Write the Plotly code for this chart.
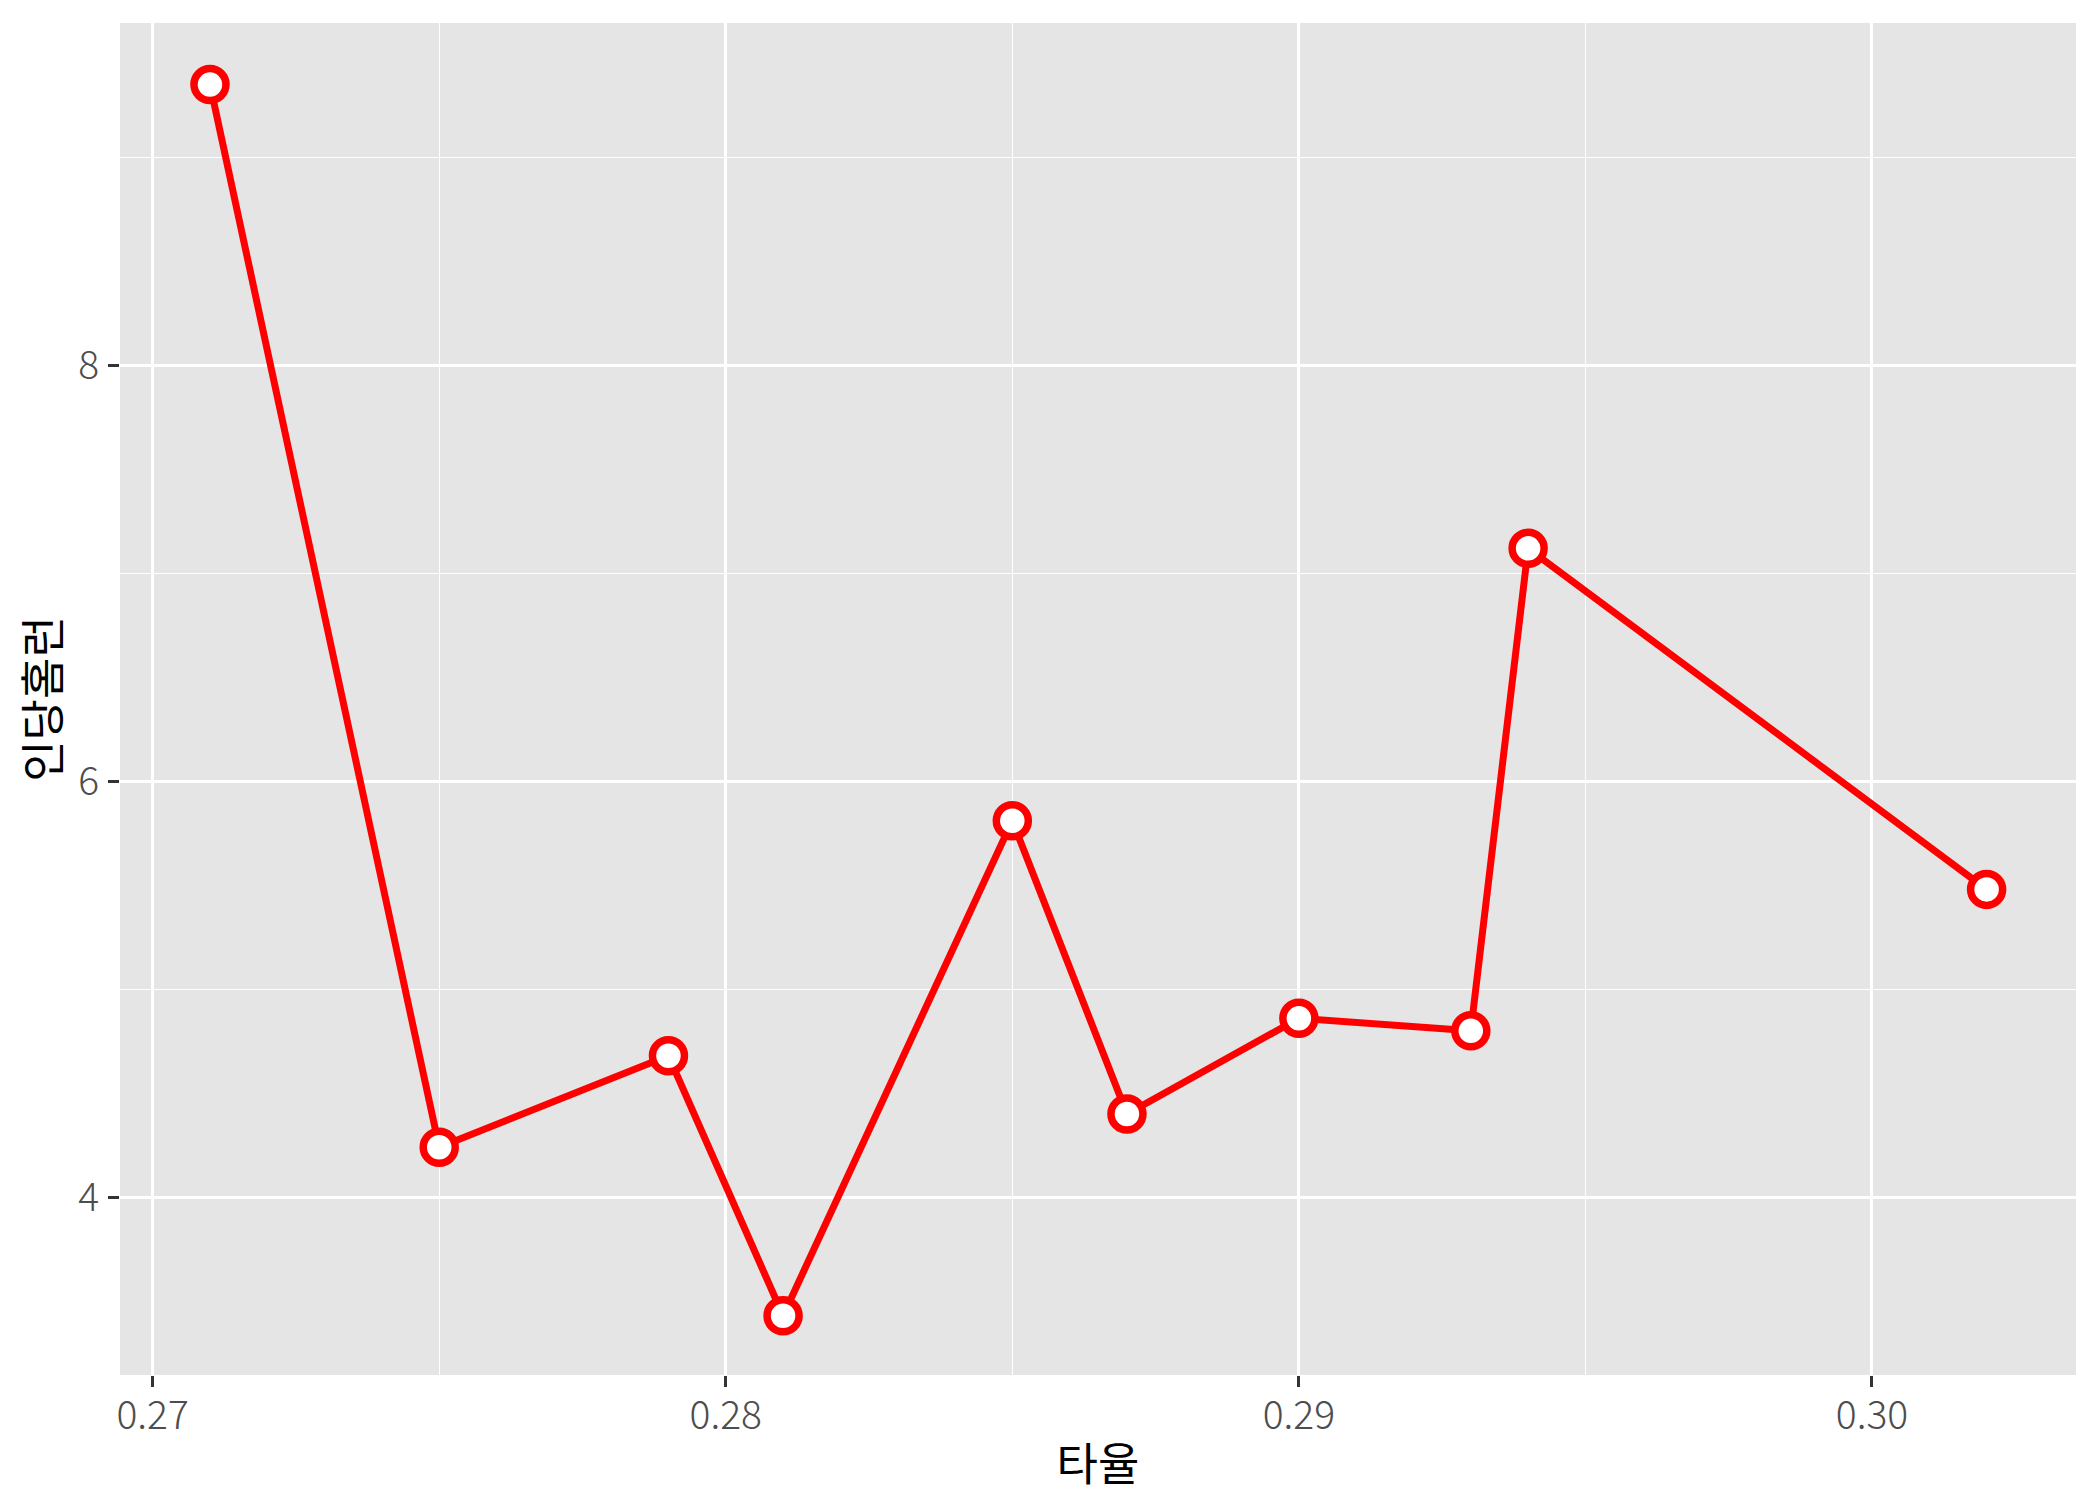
import plotly.graph_objects as go

batting_avg = [0.271, 0.275, 0.279, 0.281, 0.285, 0.287, 0.290, 0.293, 0.294, 0.302]
hr_per = [9.35, 4.24, 4.68, 3.43, 5.81, 4.40, 4.86, 4.80, 7.12, 5.48]
x_ticks = [0.27, 0.28, 0.29, 0.30]
x_tick_labels = ["0.27", "0.28", "0.29", "0.30"]
y_ticks = [4, 6, 8]
y_tick_labels = ["4", "6", "8"]
x_minor = [0.275, 0.285, 0.295]
y_minor = [5, 7, 9]

FONT = "Noto Sans CJK KR"

fig = go.Figure()
fig.add_trace(go.Scatter(
    x=batting_avg, y=hr_per, mode="lines+markers",
    line=dict(color="#FF0000", width=7),
    marker=dict(size=32, color="white", line=dict(color="#FF0000", width=7.5)),
    showlegend=False,
))

fig.update_layout(
    width=2100, height=1500,
    margin=dict(l=112, r=32, t=15, b=133),
    paper_bgcolor="white",
    plot_bgcolor="#E5E5E5",
    font=dict(family=FONT),
    xaxis=dict(
        range=[0.26943, 0.30356],
        tickvals=x_ticks, ticktext=x_tick_labels,
        showgrid=True, gridcolor="white", gridwidth=2.7,
        minor=dict(tickvals=x_minor, showgrid=True, gridcolor="white", gridwidth=1.3, ticklen=0),
        ticks="outside", ticklen=11, tickwidth=2.7, tickcolor="#333333",
        ticklabelstandoff=-5,
        tickfont=dict(size=39, color="#4D4D4D", family=FONT, weight=300),
        zeroline=False, showline=False,
        title=dict(text="타율", font=dict(size=45, color="black", family=FONT), standoff=10),
    ),
    yaxis=dict(
        range=[3.145, 9.646],
        tickvals=y_ticks, ticktext=y_tick_labels,
        showgrid=True, gridcolor="white", gridwidth=2.7,
        minor=dict(tickvals=y_minor, showgrid=True, gridcolor="white", gridwidth=1.3, ticklen=0),
        ticks="outside", ticklen=11, tickwidth=2.7, tickcolor="#333333",
        ticklabelstandoff=1,
        tickfont=dict(size=39, color="#4D4D4D", family=FONT, weight=300),
        zeroline=False, showline=False,
        title=dict(text="인당홈런", font=dict(size=45, color="black", family=FONT), standoff=22),
    ),
)

fig.write_html("out.html")
